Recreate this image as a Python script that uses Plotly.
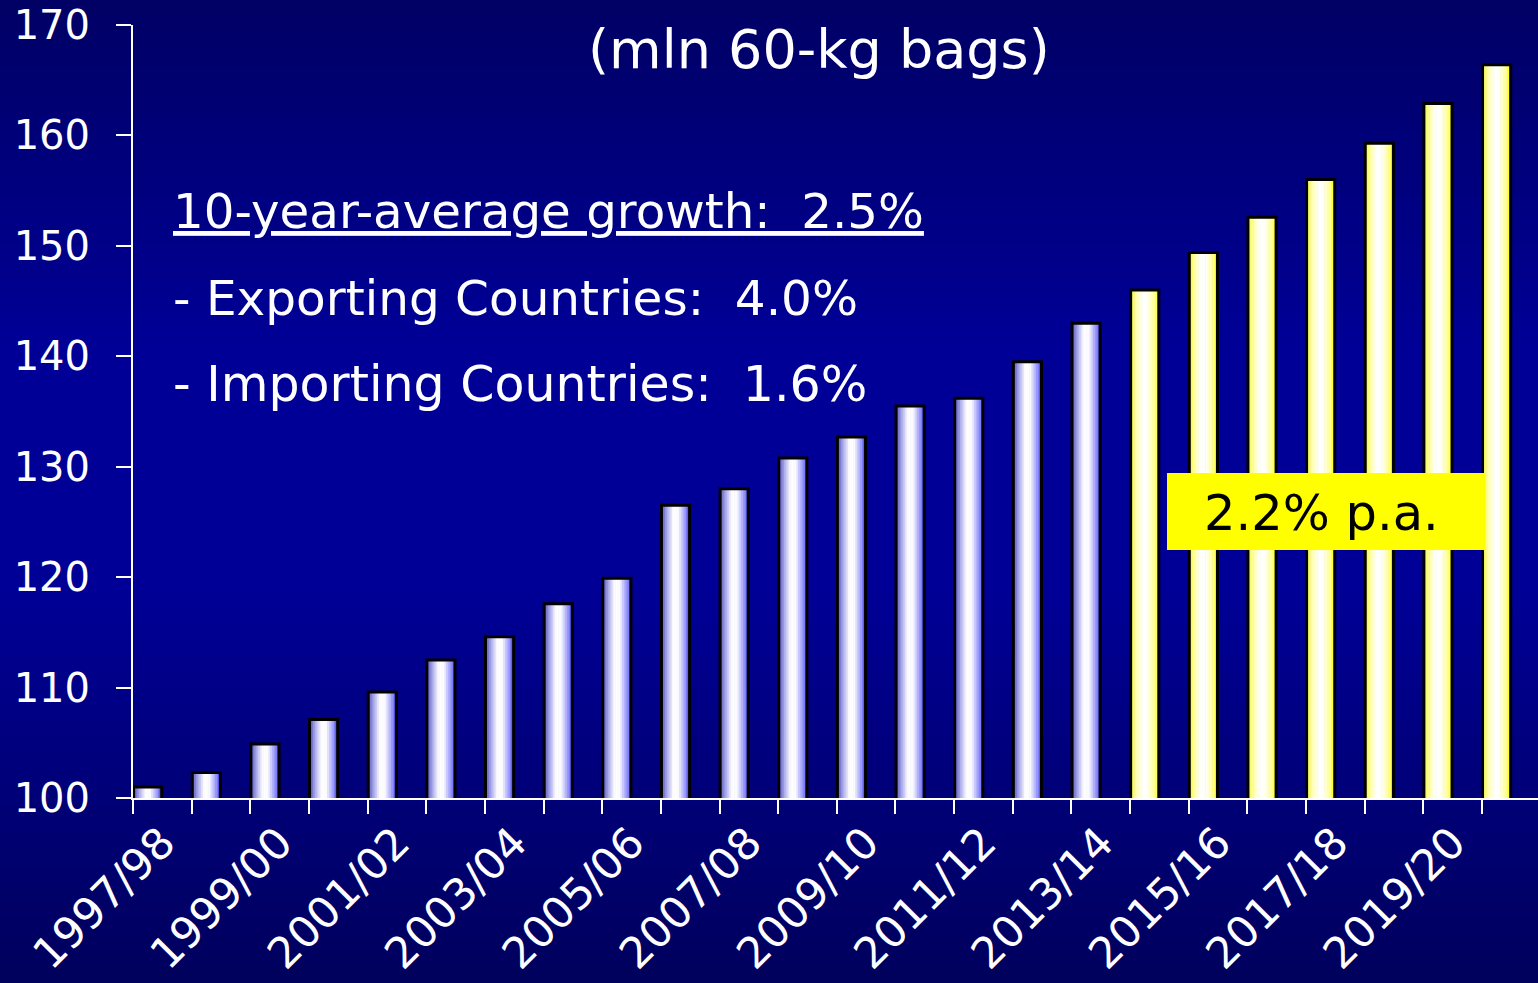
import plotly.graph_objects as go

# ---------------- data ----------------
seasons = ["1997/98", "1998/99", "1999/00", "2000/01", "2001/02", "2002/03",
           "2003/04", "2004/05", "2005/06", "2006/07", "2007/08", "2008/09",
           "2009/10", "2010/11", "2011/12", "2012/13", "2013/14", "2014/15",
           "2015/16", "2016/17", "2017/18", "2018/19", "2019/20", "2020/21"]
hist_seasons = seasons[:17]
proj_seasons = seasons[17:]
hist_values = [101.0, 102.3, 104.9, 107.1, 109.6, 112.5, 114.6, 117.6, 119.9,
               126.5, 128.0, 130.8, 132.7, 135.5, 136.2, 139.5, 143.0]
proj_values = [146.0, 149.4, 152.6, 156.0, 159.3, 162.9, 166.4]
tick_labels = ["1997/98", "", "1999/00", "", "2001/02", "", "2003/04", "",
               "2005/06", "", "2007/08", "", "2009/10", "", "2011/12", "",
               "2013/14", "", "2015/16", "", "2017/18", "", "2019/20", ""]
y_ticks = [100, 110, 120, 130, 140, 150, 160, 170]

title_text = "(mln 60-kg bags)"
growth_head = "10-year-average growth:  2.5%"
growth_exp = "- Exporting Countries:  4.0%"
growth_imp = "- Importing Countries:  1.6%"
proj_label = "2.2% p.a."

# ---------------- style helpers ----------------
W, H = 1538, 983
L, T, B = 133, 25, 185
FONT = "DejaVu Sans"


def lerp(c1, c2, t):
    return tuple(c1[i] + (c2[i] - c1[i]) * t for i in range(3))


def grad(stops, t):
    for (p0, c0), (p1, c1) in zip(stops[:-1], stops[1:]):
        if p0 <= t <= p1:
            return lerp(c0, c1, (t - p0) / (p1 - p0) if p1 > p0 else 0)
    return stops[-1][1]


def rgb(c):
    return "rgb(%d,%d,%d)" % tuple(int(round(v)) for v in c)


blue_stops = [(0.0, (80, 80, 190)), (0.2, (170, 170, 235)), (0.42, (255, 255, 255)),
              (0.6, (250, 250, 255)), (0.85, (150, 150, 250)), (1.0, (80, 80, 255))]
yel_stops = [(0.0, (245, 245, 60)), (0.2, (255, 255, 170)), (0.42, (255, 255, 255)),
             (0.6, (255, 255, 245)), (0.85, (255, 255, 140)), (1.0, (255, 255, 20))]

fig = go.Figure()

N = 16
bar_off = -0.49
bar_w = 0.48
for xs, ys, stops in [(hist_seasons, hist_values, blue_stops),
                      (proj_seasons, proj_values, yel_stops)]:
    for k in range(N):
        t = (k + 0.5) / N
        w = bar_w / N * (1.4 if k < N - 1 else 1.0)
        fig.add_bar(x=xs, y=ys, offset=bar_off + k * bar_w / N, width=w,
                    marker=dict(color=rgb(grad(stops, t)), line=dict(width=0)),
                    hoverinfo="skip", showlegend=False)
    fig.add_bar(x=xs, y=ys, offset=bar_off, width=bar_w,
                marker=dict(color="rgba(0,0,0,0)", line=dict(color="black", width=3)),
                showlegend=False)

# background gradient bands
bg_stops = [(0.0, (0, 0, 100)), (0.35, (0, 0, 150)), (0.6, (0, 0, 150)), (1.0, (0, 0, 92))]
nb = 60
pw = W - L
ph = H - T - B
shapes = []
for i in range(nb):
    py0 = i * H / nb
    py1 = (i + 1) * H / nb + 1
    c = grad(bg_stops, (i + 0.5) / nb)
    shapes.append(dict(type="rect", xref="paper", yref="paper", layer="below",
                       x0=-L / pw - 0.01, x1=1.01,
                       y0=(H - B - py1) / ph, y1=(H - B - py0) / ph,
                       fillcolor=rgb(c), line=dict(width=0)))


def px_x(x):
    return (x - L) / pw


def px_y(y):
    return (H - B - y) / ph


# yellow box behind the projection label
shapes.append(dict(type="rect", xref="paper", yref="paper", layer="above",
                   x0=px_x(1167), x1=px_x(1485), y0=px_y(550), y1=px_y(473),
                   fillcolor="#ffff00", line=dict(width=0)))

annotations = [
    dict(text=title_text, x=px_x(819), y=px_y(50), xanchor="center", yanchor="middle",
         font=dict(family=FONT, size=54, color="white")),
    dict(text=growth_head, x=px_x(171), y=px_y(211), xanchor="left", yanchor="middle",
         font=dict(family=FONT, size=48.3, color="white", lineposition="under")),
    dict(text=growth_exp, x=px_x(171), y=px_y(298), xanchor="left", yanchor="middle",
         font=dict(family=FONT, size=48.5, color="white")),
    dict(text=growth_imp, x=px_x(171), y=px_y(384), xanchor="left", yanchor="middle",
         font=dict(family=FONT, size=49, color="white")),
    dict(text=proj_label, x=px_x(1321.5), y=px_y(513), xanchor="center", yanchor="middle",
         font=dict(family=FONT, size=49.5, color="black")),
]
for a in annotations:
    a.update(xref="paper", yref="paper", showarrow=False)

fig.update_layout(
    width=W, height=H,
    margin=dict(l=L, r=0, t=T, b=B, autoexpand=False),
    paper_bgcolor="#000080", plot_bgcolor="rgba(0,0,0,0)",
    barmode="overlay", showlegend=False,
    shapes=shapes, annotations=annotations,
    font=dict(family=FONT, color="white"),
)
fig.update_xaxes(type="category", categoryorder="array", categoryarray=seasons,
                 range=[-0.5, -0.5 + pw / 58.65],
                 tickmode="array", tickvals=seasons, ticktext=tick_labels,
                 tickson="boundaries", ticks="outside", ticklen=14, tickwidth=2,
                 tickcolor="white", tickangle=-45,
                 tickfont=dict(family=FONT, size=43, color="white"),
                 showline=True, linecolor="white", linewidth=2,
                 showgrid=False, zeroline=False, automargin=False)
fig.update_yaxes(range=[100, 170], tickmode="array", tickvals=y_ticks,
                 ticks="outside", ticklen=15, tickwidth=2, tickcolor="white",
                 tickfont=dict(family=FONT, size=40, color="white"),
                 ticklabelstandoff=18,
                 showline=True, linecolor="white", linewidth=2,
                 showgrid=False, zeroline=False, automargin=False)

fig.write_html("out.html", config={"displayModeBar": False},
               post_script="document.body.style.margin='0';document.body.style.overflow='hidden';")
